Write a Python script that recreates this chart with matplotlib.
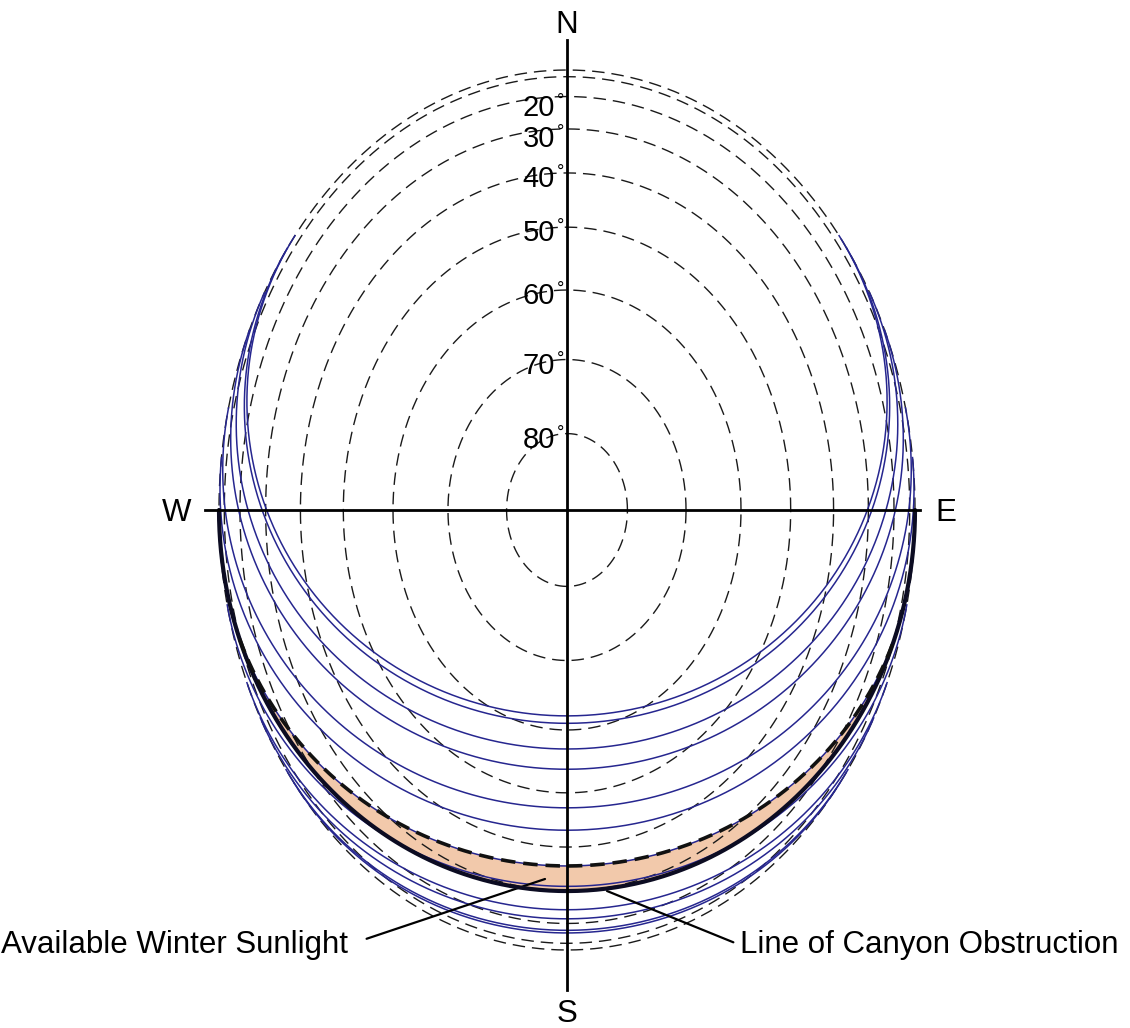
import numpy as np
from matplotlib import pyplot as plt

plt.rcParams['font.family'] = ['Liberation Sans', 'DejaVu Sans']

# 每月1日的太阳赤纬 (度)
months = ['Jan', 'Feb', 'Mar', 'Apr', 'May', 'Jun', 'Jul', 'Aug', 'Sep', 'Oct', 'Nov', 'Dec']
declination = [-23.0, -17.3, -7.8, 4.3, 14.9, 22.0, 23.1, 18.1, 8.4, -3.0, -14.3, -21.8]
latitude = 51.0
altitude_rings = [0, 10, 20, 30, 40, 50, 60, 70, 80]
ring_labels = [20, 30, 40, 50, 60, 70, 80]
canyon_angle = 30.0      # 正南方向峡谷遮挡高度角
winter_month = 'Oct'     # 冬季可用日照的上边界

# 画布布局 (像素)
W, H = 1130, 1028
cx, cy, rx, ry = 567, 510, 348, 440


def px(x=None, y=None):
    # 像素坐标 -> 数据坐标
    if x is not None and y is not None:
        return (x - cx) / rx, (cy - y) / ry
    if x is not None:
        return (x - cx) / rx
    return (cy - y) / ry


def sun_path(dec, lat, n=600):
    d, p = np.radians(dec), np.radians(lat)
    h0 = np.arccos(np.clip(-np.tan(p) * np.tan(d), -1, 1))
    h = np.linspace(-h0, h0, n)
    x = np.cos(d) * np.sin(h)
    y = np.cos(p) * np.sin(d) - np.sin(p) * np.cos(d) * np.cos(h)
    z = np.sin(p) * np.sin(d) + np.cos(p) * np.cos(d) * np.cos(h)
    return x, y, z


def obstruction_alt(az):
    # az: 自正南起算的方位角 (弧度)
    return np.arctan(np.tan(np.radians(canyon_angle)) * np.clip(np.cos(az), 0, None))


fig = plt.figure(figsize=(W / 100, H / 100), dpi=100)
ax = fig.add_axes([0, 0, 1, 1])
ax.set_xlim(-cx / rx, (W - cx) / rx)
ax.set_ylim(-(H - cy) / ry, cy / ry)
ax.axis('off')

# 高度角圈
t = np.linspace(0, 2 * np.pi, 721)
for a in altitude_rings:
    r = np.cos(np.radians(a))
    ax.plot(r * np.cos(t), r * np.sin(t), color='#1a1a1a', lw=1.0,
            ls=(0, (9, 5)), zorder=2)

# 太阳轨迹
for m, dec in zip(months, declination):
    x, y, z = sun_path(dec, latitude)
    ax.plot(x, y, color='#26268f', lw=1.1, zorder=3)

# 峡谷遮挡线
az = np.radians(np.linspace(-90, 90, 400))
r_ob = np.cos(obstruction_alt(az))
ob_x, ob_y = r_ob * np.sin(az), -r_ob * np.cos(az)
ax.plot(ob_x, ob_y, color='#0c0c22', lw=3.0, zorder=4, solid_capstyle='round')

# 冬季可用日照区域
x, y, z = sun_path(declination[months.index(winter_month)], latitude)
path_az = np.arctan2(x, -y)
mask = np.arcsin(z) > obstruction_alt(path_az)
idx = np.where(mask)[0]
sx, sy = x[idx[0]:idx[-1] + 1], y[idx[0]:idx[-1] + 1]
back = np.linspace(path_az[idx[-1]], path_az[idx[0]], 300)
rb = np.cos(obstruction_alt(back))
poly_x = np.concatenate([sx, rb * np.sin(back)])
poly_y = np.concatenate([sy, -rb * np.cos(back)])
ax.fill(poly_x, poly_y, color='#f2c9ab', lw=0, zorder=1)
ax.plot(sx, sy, color='#111111', lw=2.6, ls=(0, (4, 2.2)), zorder=4)

# 坐标轴十字
ax.plot([0, 0], [px(y=40), px(y=990)], color='black', lw=2.0, zorder=5)
ax.plot([px(x=205), px(x=920)], [0, 0], color='black', lw=2.0, zorder=5)

fs = 22.5
ax.text(0, px(y=25), 'N', ha='center', va='center', fontsize=fs)
ax.text(0, px(y=1014), 'S', ha='center', va='center', fontsize=fs)
ax.text(px(x=177), px(y=513), 'W', ha='center', va='center', fontsize=fs)
ax.text(px(x=946), px(y=513), 'E', ha='center', va='center', fontsize=fs)

# 高度角标注
prev = cy - ry * np.cos(np.radians(10))
for a in ring_labels:
    top = cy - ry * np.cos(np.radians(a))
    yc = max(top + 6, prev + 31)
    prev = yc
    ax.text(px(x=555), px(y=yc), str(a), ha='right', va='center', fontsize=21, zorder=6)
    ax.text(px(x=561), px(y=yc - 15), '°', ha='center', va='top', fontsize=13, zorder=6)

# 注释
ax.annotate('Available Winter Sunlight', xy=px(545, 879), xytext=px(348, 945),
            ha='right', va='center', fontsize=fs,
            arrowprops=dict(arrowstyle='-', lw=1.6, color='black',
                            relpos=(1, 0.5), shrinkA=12, shrinkB=0))
ax.annotate('Line of Canyon Obstruction', xy=px(607, 891), xytext=px(740, 945),
            ha='left', va='center', fontsize=fs,
            arrowprops=dict(arrowstyle='-', lw=1.6, color='black',
                            relpos=(0, 0.5), shrinkA=3, shrinkB=0))

fig.savefig('out.png', dpi=100, facecolor='white')
